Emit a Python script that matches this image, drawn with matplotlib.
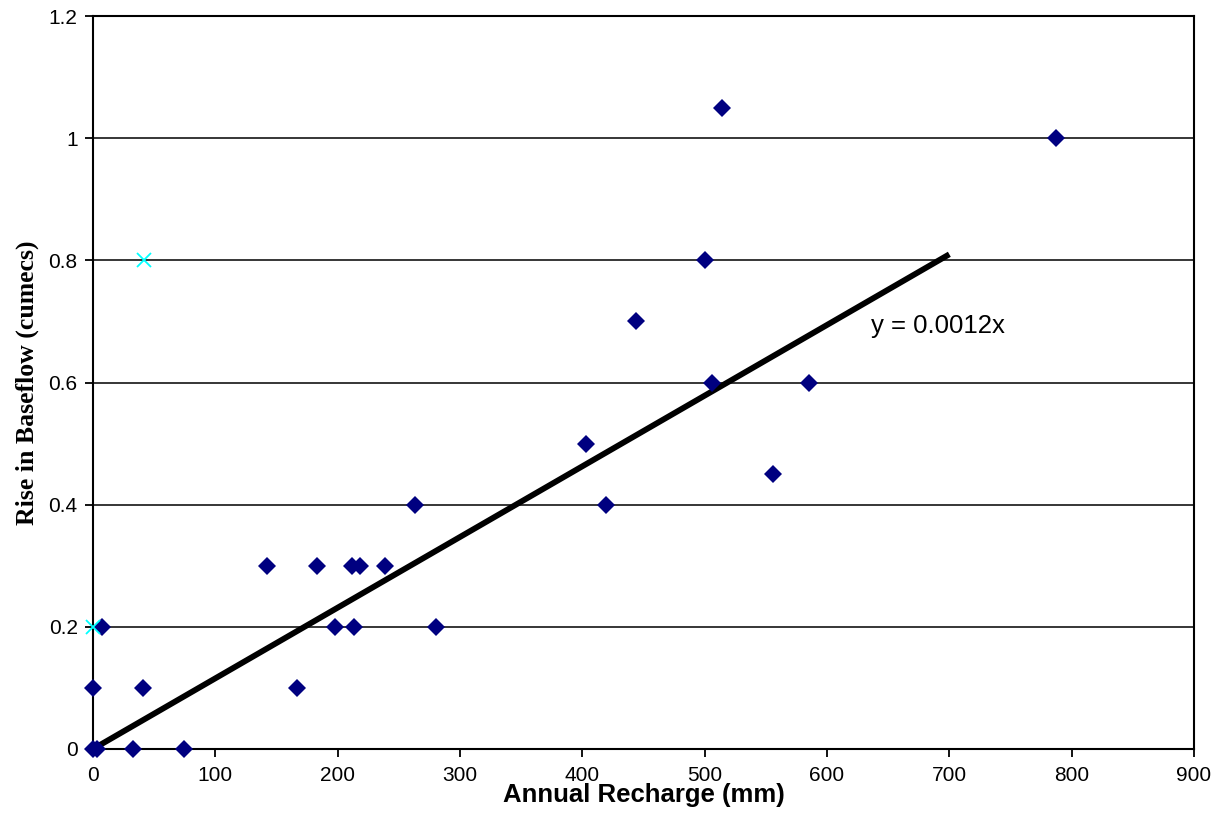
import matplotlib
matplotlib.use("Agg")
import matplotlib.pyplot as plt
import numpy as np

# Data
recharge = [0, 3, 0, 7, 33, 41, 74, 142, 167, 183, 198, 212, 213, 218, 239,
            263, 280, 403, 419, 444, 500, 506, 514, 556, 585, 787]
baseflow = [0, 0, 0.1, 0.2, 0, 0.1, 0, 0.3, 0.1, 0.3, 0.2, 0.3, 0.2, 0.3, 0.3,
            0.4, 0.2, 0.5, 0.4, 0.7, 0.8, 0.6, 1.05, 0.45, 0.6, 1.0]
outlier_recharge = [0, 42]
outlier_baseflow = [0.2, 0.8]
trend_x = [0, 700]
trend_slope = 0.001157
trend_label = "y = 0.0012x"
xticks = [0, 100, 200, 300, 400, 500, 600, 700, 800, 900]
yticks = [0, 0.2, 0.4, 0.6, 0.8, 1.0, 1.2]
ytick_labels = ["0", "0.2", "0.4", "0.6", "0.8", "1", "1.2"]

fig = plt.figure(figsize=(12.23, 8.19), dpi=100)
ax = fig.add_axes([93 / 1223, 1 - 749 / 819, (1194 - 93) / 1223, (749 - 16) / 819])

ax.set_xlim(0, 900)
ax.set_ylim(0, 1.2)

for y in yticks[1:]:
    ax.axhline(y, color="black", lw=1.1, zorder=1)

tx = np.array(trend_x, dtype=float)
ax.plot(tx, trend_slope * tx, color="black", lw=4.2, zorder=2, solid_capstyle="butt")

ax.plot(recharge, baseflow, linestyle="none", marker="D", color="#000080",
        markersize=9.5, markeredgewidth=0, zorder=3, clip_on=False)
ax.plot(outlier_recharge, outlier_baseflow, linestyle="none", marker="x",
        color="#00FFFF", markersize=10, markeredgewidth=1.3, zorder=4, clip_on=False)

ax.text(636, 0.693, trend_label, fontsize=18.5, family="Liberation Sans",
        ha="left", va="center")

ax.set_xticks(xticks)
ax.set_xticklabels([str(v) for v in xticks], family="Liberation Sans", fontsize=15)
ax.set_yticks(yticks)
ax.set_yticklabels(ytick_labels, family="Liberation Sans", fontsize=15)
ax.tick_params(axis="both", direction="out", length=6, width=1.3, color="black")
ax.tick_params(axis="x", pad=6)
ax.tick_params(axis="y", pad=5)

for sp in ax.spines.values():
    sp.set_linewidth(1.5)
    sp.set_color("black")

ax.set_xlabel("Annual Recharge (mm)", family="Liberation Sans", fontweight="bold",
              fontsize=18.5)
ax.xaxis.set_label_coords(0.5, -0.046)
ax.set_ylabel("Rise in Baseflow (cumecs)", family="Liberation Serif", fontweight="bold",
              fontsize=18.5)
ax.yaxis.set_label_coords(-0.049, 0.5)

fig.savefig("out.png", dpi=100)
